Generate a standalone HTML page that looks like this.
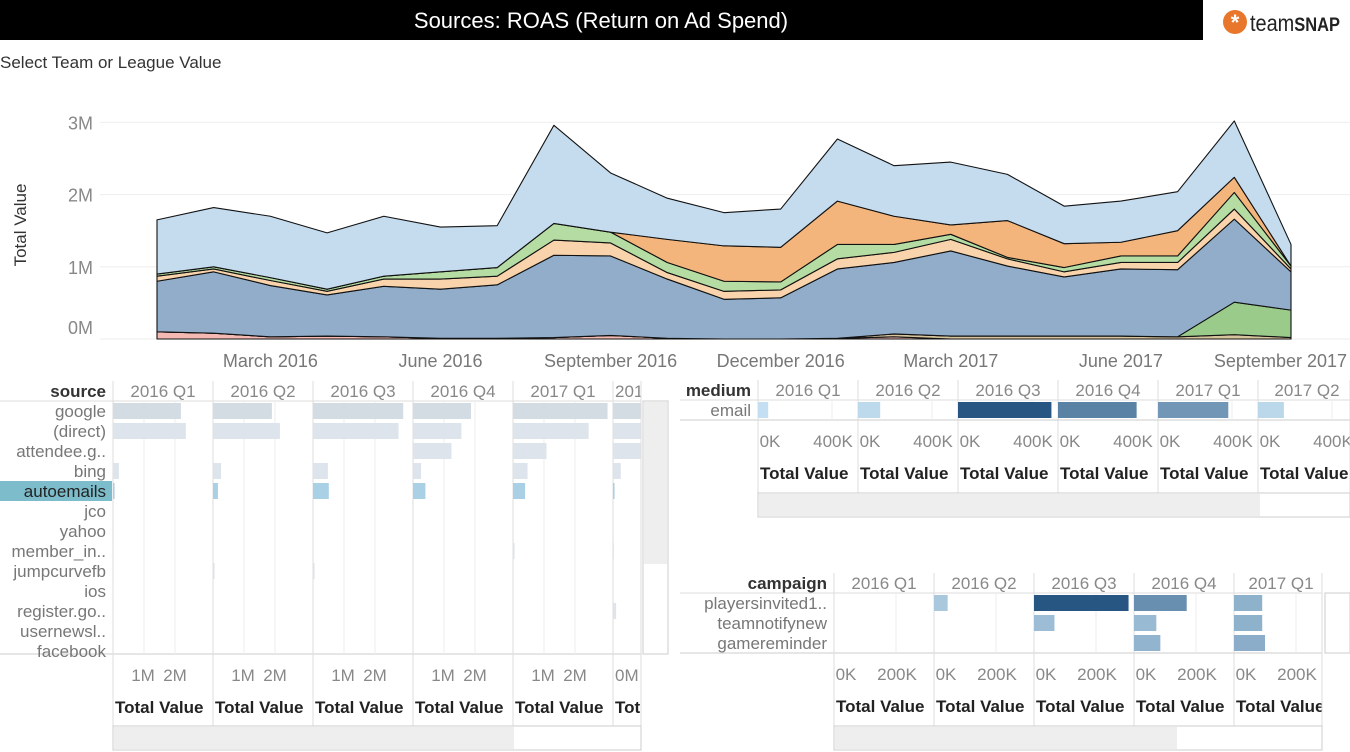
<!DOCTYPE html>
<html><head><meta charset="utf-8"><style>
html,body{margin:0;padding:0;background:#fff;width:1350px;height:752px;overflow:hidden}
svg{display:block;font-family:"Liberation Sans",sans-serif}
</style></head><body>
<svg id="s" width="1350" height="752" viewBox="0 0 1350 752" xmlns="http://www.w3.org/2000/svg">
<rect x="0" y="0" width="1203" height="40" fill="#000"/>
<text x="601" y="28" fill="#fff" font-size="22" text-anchor="middle">Sources: ROAS (Return on Ad Spend)</text>
<g>
<circle cx="1235" cy="22" r="12" fill="#e8762b"/>
<text x="1235" y="30" fill="#fff" font-size="22" font-weight="bold" text-anchor="middle">*</text>
<text x="1250" y="31" fill="#222" font-size="23" textLength="90" lengthAdjust="spacingAndGlyphs">team<tspan font-weight="bold" font-size="19">SNAP</tspan></text>
</g>
<text x="0" y="68" fill="#333" font-size="17">Select Team or League Value</text>
<g id="area"></g>
<g id="src"></g>
<g id="med"></g>
<g id="cmp"></g>
</svg>
<script>
// ---------- area chart data (values in millions, monthly Jan 2016 - Sep 2017) ----------
const months = ["Jan 2016","Feb 2016","Mar 2016","Apr 2016","May 2016","Jun 2016","Jul 2016","Aug 2016","Sep 2016","Oct 2016","Nov 2016","Dec 2016","Jan 2017","Feb 2017","Mar 2017","Apr 2017","May 2017","Jun 2017","Jul 2017","Aug 2017","Sep 2017"];
const pinkVals = [0.10,0.08,0.03,0.04,0.03,0.01,0.01,0.02,0.05,0.01,0,0,0.01,0.03,0,0,0,0,0,0,0];
const tanVals = [0,0,0,0,0,0,0,0,0,0,0,0,0,0.04,0.04,0.04,0.04,0.04,0.03,0.06,0.02];
const greenBottomVals = [0,0,0,0,0,0,0,0,0,0,0,0,0,0,0,0,0,0,0,0.45,0.38];
const steelVals = [0.70,0.85,0.71,0.57,0.70,0.68,0.74,1.14,1.10,0.82,0.55,0.57,0.96,0.99,1.18,0.97,0.82,0.93,0.93,1.15,0.53];
const peachVals = [0.07,0.04,0.07,0.05,0.10,0.14,0.12,0.21,0.18,0.09,0.11,0.11,0.14,0.14,0.16,0.10,0.07,0.09,0.10,0.14,0.04];
const greenVals = [0.03,0.03,0.04,0.03,0.04,0.10,0.12,0.23,0.15,0.14,0.14,0.11,0.20,0.11,0.07,0.02,0.06,0.09,0.09,0.23,0.04];
const orangeVals = [0,0,0,0,0,0,0,0,0,0.32,0.49,0.48,0.60,0.39,0.13,0.51,0.33,0.19,0.35,0.21,0];
const lightBlueVals = [0.75,0.82,0.85,0.78,0.83,0.62,0.58,1.36,0.82,0.57,0.46,0.53,0.86,0.70,0.87,0.64,0.52,0.57,0.54,0.78,0.30];
const yTicks = [0,1,2,3];
const yTickLabels = ["0M","1M","2M","3M"];
const xTickIdx = [2,5,8,11,14,17,20];
const xTickLabels = ["March 2016","June 2016","September 2016","December 2016","March 2017","June 2017","September 2017"];

// ---------- source panel data (millions) ----------
const quarters = ["2016 Q1","2016 Q2","2016 Q3","2016 Q4","2017 Q1","2017 Q2"];
const sources = ["google","(direct)","attendee.g..","bing","autoemails","jco","yahoo","member_in..","jumpcurvefb","ios","register.go..","usernewsl..","facebook"];
const googleQ = [2.19,1.90,2.91,1.87,3.05,2.5];
const directQ = [2.35,2.16,2.76,1.56,2.44,2.2];
const attendeeQ = [0,0,0,1.24,1.08,1.3];
const bingQ = [0.19,0.26,0.48,0.26,0.47,0.25];
const autoemailsQ = [0.05,0.16,0.51,0.40,0.39,0.05];
const jcoQ = [0,0,0,0,0,0];
const yahooQ = [0.02,0.01,0,0,0,0];
const memberQ = [0,0,0,0,0.05,0.03];
const jumpQ = [0,0.05,0.05,0,0,0];
const iosQ = [0.01,0,0,0,0,0];
const registerQ = [0,0,0,0,0,0.10];
const usernewsQ = [0,0,0,0,0,0];
const facebookQ = [0,0,0,0,0,0];
const srcTickLabels = ["1M","2M"];
const srcTicks = [1,2];

// ---------- medium panel data (thousands) ----------
const emailQ = [55,120,505,425,380,140];
const medTicks = [0,400];
const medTickLabels = ["0K","400K"];

// ---------- campaign panel data (thousands) ----------
const campQuarters = ["2016 Q1","2016 Q2","2016 Q3","2016 Q4","2017 Q1"];
const campaigns = ["playersinvited1..","teamnotifynew","gamereminder"];
const playersQ = [0,44,305,170,91];
const teamnotifyQ = [0,0,66,72,91];
const gameQ = [0,0,0,85,100];
const cmpTicks = [0,200];
const cmpTickLabels = ["0K","200K"];

const NS="http://www.w3.org/2000/svg";
function mk(tag, parent, attrs){const e=document.createElementNS(NS,tag);for(const k in attrs)e.setAttribute(k,attrs[k]);parent.appendChild(e);return e;}

// ---------- area chart ----------
const area=document.getElementById('area');
const xA=i=>157+i*56.7;
const yA=v=>339-v*72.2;
yTicks.forEach((t,i)=>{
  const g=mk('line',area,{x1:100,x2:1350,y1:yA(t),y2:yA(t),stroke:'#eee','stroke-width':1});
  
  
  const tx=mk('text',area,{x:93,y:(t===0?yA(t)-5:yA(t)+7),'font-size':18,fill:'#888','text-anchor':'end'});
  tx.textContent=yTickLabels[i];
  
  
});
const yt=mk('text',area,{x:0,y:0,'font-size':17,fill:'#333','text-anchor':'middle',transform:'translate(26,225) rotate(-90)'});
yt.textContent='Total Value';


const layers=[[pinkVals,'#f3b9b2','pink'],[tanVals,'#d6c49c','tan'],[greenBottomVals,'#9acb8b','green-bottom'],[steelVals,'#91adca','steel'],[peachVals,'#f8d3ab','peach'],[greenVals,'#b5dca2','green'],[orangeVals,'#f4b57c','orange'],[lightBlueVals,'#c5dcef','light-blue']];
let base=months.map(()=>0);
layers.forEach(([vals,col,nm])=>{
  const top=base.map((b,i)=>b+vals[i]);
  let d='M'+top.map((v,i)=>xA(i)+','+yA(v)).join(' L');
  for(let i=months.length-1;i>=0;i--) d+=' L'+xA(i)+','+yA(base[i]);
  d+=' Z';
  const p=mk('path',area,{d:d,fill:col,stroke:'#111','stroke-width':1.1,'stroke-linejoin':'round'});
  
  
  base=top;
});
xTickIdx.forEach((idx,i)=>{
  const last=i===xTickIdx.length-1;
  const tx=mk('text',area,{x:last?1347:xA(idx),y:367,'font-size':18,fill:'#777','text-anchor':last?'end':'middle'});
  tx.textContent=xTickLabels[i];
  
  
});

// ---------- generic bar panel ----------
function panel(g,o){
  const {rowLabel,labelRight,cols,colLeft,colW,right,top,rowH,rows,series,scale,ticks,tickLabels,tickOffsets,colorFn,lineLeft,vscroll,thumbEnd,scrollY}=o;
  const bottom=top+rowH*rows.length+(o.extraH||0);
  const hl=mk('text',g,{x:labelRight,y:top-4,'font-size':17,'font-weight':'bold',fill:'#333','text-anchor':'end'});
  hl.textContent=rowLabel;
  
  
  mk('line',g,{x1:lineLeft,x2:right,y1:top,y2:top,stroke:'#ddd'});
  mk('line',g,{x1:lineLeft,x2:right,y1:bottom,y2:bottom,stroke:'#ccc'});
  mk('line',g,{x1:colLeft,x2:colLeft,y1:top-20,y2:scrollY,stroke:'#ddd'});
  cols.forEach((c,ci)=>{
    const x0=colLeft+ci*colW;
    const x1=Math.min(x0+colW,right);
    const w=x1-x0;
    const clipped=w<colW-30;
    const clip=mk('clipPath',g,{id:'c'+g.id+ci});
    mk('rect',clip,{x:x0,y:top-22,width:w,height:scrollY-top+22});
    const cg=mk('g',g,{'clip-path':'url(#c'+g.id+ci+')'});
    
    
    const h=mk('text',cg,{x:clipped?x0+2:x0+Math.min(colW,w+6)/2,y:top-4,'font-size':17,fill:'#888','text-anchor':clipped?'start':'middle'});
    h.textContent=c;
    
    
    ticks.forEach((t,ti)=>{
      if(t>0){mk('line',cg,{x1:x0+t*scale,x2:x0+t*scale,y1:top,y2:bottom,stroke:'#eee'});}
    });
    if(clipped && o.clippedTick){
      const tl=mk('text',cg,{x:x0+2,y:bottom+27,'font-size':17,fill:'#888'});
      tl.textContent=o.clippedTick;
      
      
    } else {
      ticks.forEach((t,ti)=>{
        const tl=mk('text',cg,{x:x0+tickOffsets[ti],y:bottom+27,'font-size':17,fill:'#888','text-anchor':'middle'});
        tl.textContent=tickLabels[ti];
        
        
      });
    }
    const tv=mk('text',cg,{x:x0+2,y:bottom+59,'font-size':17,'font-weight':'bold',fill:'#222'});
    tv.textContent='Total Value';
    
    
    series.forEach((s,ri)=>{
      const v=s[ci];
      if(v<=0)return;
      const b=mk('rect',cg,{x:x0,y:top+ri*rowH+2,width:v*scale,height:rowH-4,fill:colorFn(ri,v)});
      
      
    });
    mk('line',g,{x1:x1,x2:x1,y1:top-20,y2:scrollY,stroke:'#ddd'});
  });
  rows.forEach((r,ri)=>{
    if(o.highlight===ri){
      const hb=mk('rect',g,{x:0,y:top+ri*rowH,width:colLeft-1,height:rowH,fill:'#7dbccb'});
      
      
    }
    const t=mk('text',g,{x:labelRight,y:top+ri*rowH+16,'font-size':17,fill:o.highlight===ri?'#222':'#777','text-anchor':'end'});
    t.textContent=r;
    
    
  });
  const sb=mk('rect',g,{x:colLeft,y:scrollY,width:right-colLeft,height:24,fill:'#fff',stroke:'#ccc'});
  
  
  const th=mk('rect',g,{x:colLeft+1,y:scrollY+1,width:thumbEnd-colLeft,height:22,fill:'#eee'});
  
  
  if(vscroll){
    const vs=mk('rect',g,{x:vscroll[0],y:top,width:vscroll[1],height:bottom-top,fill:'#fff',stroke:'#ccc'});
    
    
    if(vscroll[2]){const vt=mk('rect',g,{x:vscroll[0]+1,y:top+1,width:vscroll[1]-2,height:vscroll[2],fill:'#eee'});
    
    }
  }
}

panel(document.getElementById('src'),{
  rowLabel:'source',labelRight:106,cols:quarters,colLeft:113,colW:100,right:641,top:401,rowH:20,extraH:-7,
  rows:sources,series:[googleQ,directQ,attendeeQ,bingQ,autoemailsQ,jcoQ,yahooQ,memberQ,jumpQ,iosQ,registerQ,usernewsQ,facebookQ],
  scale:31,ticks:srcTicks,tickLabels:srcTickLabels,tickOffsets:[30,62],clippedTick:'0M',
  colorFn:(ri,v)=>ri===4?'#a9d0e5':(ri===0?'#d3dbe3':'#dde4eb'),
  lineLeft:0,vscroll:[643,25,162],thumbEnd:513,scrollY:726,highlight:4
});

function blueScale(v,max,p){
  const t=Math.pow(Math.min(1,v/max),p);
  const a=[196,224,242],b=[40,86,130];
  return 'rgb('+a.map((c,i)=>Math.round(c+(b[i]-c)*t)).join(',')+')';
}
panel(document.getElementById('med'),{
  rowLabel:'medium',labelRight:751,cols:quarters,colLeft:758,colW:100,right:1350,top:400,rowH:20,
  rows:['email'],series:[emailQ],scale:0.185,ticks:medTicks,tickLabels:medTickLabels,tickOffsets:[12,75],
  colorFn:(ri,v)=>blueScale(v,505,2.2),lineLeft:680,vscroll:null,thumbEnd:1259,scrollY:493
});
panel(document.getElementById('cmp'),{
  rowLabel:'campaign',labelRight:827,cols:campQuarters,colLeft:834,colW:100,right:1322,top:593,rowH:20,
  rows:campaigns,series:[playersQ,teamnotifyQ,gameQ],scale:0.31,ticks:cmpTicks,tickLabels:cmpTickLabels,tickOffsets:[12,63],
  colorFn:(ri,v)=>blueScale(v,305,0.9),lineLeft:680,vscroll:[1325,25,0],thumbEnd:1176,scrollY:726
});
</script>
</body></html>
